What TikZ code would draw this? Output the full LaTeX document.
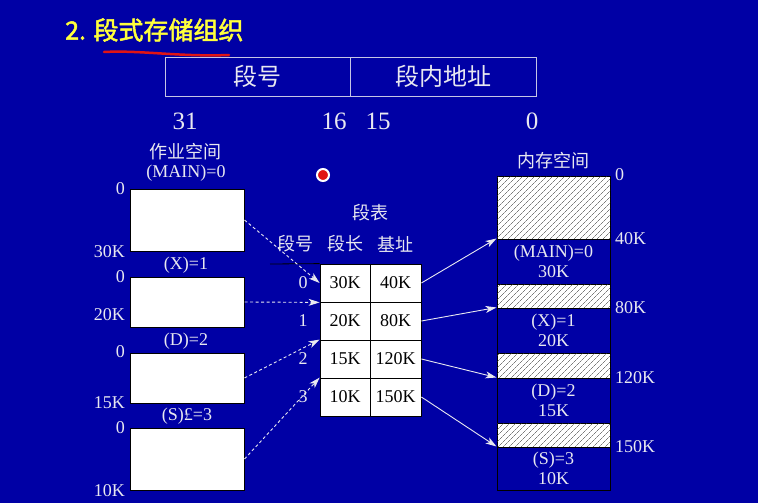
\documentclass[tikz,border=0pt]{standalone}
\usepackage{fontspec}
\setmainfont{Liberation Serif}
\newfontfamily\cjk{Noto Sans CJK SC}
\newfontfamily\cjkb[FakeBold=2]{Noto Sans CJK SC}
\usetikzlibrary{arrows.meta,patterns.meta}
\definecolor{slide}{RGB}{0,0,165}
\definecolor{lbl}{RGB}{232,232,240}
\definecolor{ttl}{RGB}{255,255,60}
\definecolor{pen}{RGB}{225,20,20}
\begin{document}
\begin{tikzpicture}[x=1pt,y=-1pt,>={Stealth[length=11pt,width=7pt,inset=3pt]},
  txt/.style={text=lbl,inner sep=0pt,font=\fontsize{18}{18}\selectfont},
  ctxt/.style={text=lbl,inner sep=0pt,font=\cjk\fontsize{18}{18}\selectfont},
  bits/.style={text=lbl,inner sep=0pt,font=\fontsize{25}{25}\selectfont},
  field/.style={draw=lbl!85!slide,line width=0.8pt,minimum height=39pt,inner sep=0pt,text=lbl,font=\cjk\fontsize{24}{24}\selectfont},
  jobseg/.style={draw=black,fill=white,line width=1pt,minimum width=114pt,inner sep=0pt},
  cell/.style={draw=black,fill=white,line width=0.8pt,minimum height=38pt,inner sep=0pt,font=\fontsize{18}{18}\selectfont},
  hole/.style={draw=black,line width=1pt,minimum width=113pt,inner sep=0pt,fill=white,
    postaction={pattern={Lines[angle=45,distance=4pt,line width=0.45pt]},pattern color=black!80}},
  memseg/.style={draw=black,line width=1pt,minimum width=113pt,inner sep=0pt,text=lbl,align=center,font=\fontsize{18}{20}\selectfont},
  link/.style={->,draw=lbl,line width=0.9pt,dash pattern=on 3pt off 2.5pt},
  map/.style={->,draw=lbl,line width=0.9pt}]
\fill[slide] (0,0) rectangle (758,503);
\node[anchor=west,text=ttl,inner sep=0pt,font=\cjkb\fontsize{25}{25}\selectfont] (title) at (65,30) {2. 段式存储组织};
\draw[pen,line width=2.5pt,line cap=round] (104,52) .. controls (140,50) and (180,57) .. (229,55);
\node[field,minimum width=185pt] (segno) at (257.5,76.5) {段号};
\node[field,minimum width=186pt] (offset) at (443,76.5) {段内地址};
\node[bits] (b31) at (185,121) {31};
\node[bits] (b16) at (334,121) {16};
\node[bits] (b15) at (378,121) {15};
\node[bits] (b0) at (532,121) {0};
\draw[white,fill=pen,line width=2pt] (323,175) circle (6pt);
\node[ctxt] (jobspace) at (185,152) {作业空间};
\node[txt] (jn0) at (186,173) {(MAIN)=0};
\node[jobseg,minimum height=62pt] (job0) at (187,220) {};
\node[txt] (jn1) at (186,265) {(X)=1};
\node[jobseg,minimum height=50pt] (job1) at (187,302) {};
\node[txt] (jn2) at (186,341) {(D)=2};
\node[jobseg,minimum height=50pt] (job2) at (187,378) {};
\node[txt] (jn3) at (187,416) {(S)£=3};
\node[jobseg,minimum height=62pt] (job3) at (187,459) {};
\node[txt,anchor=east] (ja0) at (125,189) {0};
\node[txt,anchor=east] (je0) at (125,252) {30K};
\node[txt,anchor=east] (ja1) at (125,277) {0};
\node[txt,anchor=east] (je1) at (125,315) {20K};
\node[txt,anchor=east] (ja2) at (125,352) {0};
\node[txt,anchor=east] (je2) at (125,403) {15K};
\node[txt,anchor=east] (ja3) at (125,428) {0};
\node[txt,anchor=east] (je3) at (125,491) {10K};
\node[ctxt] (segtab) at (370,213) {段表};
\node[ctxt] (hno) at (295,244) {段号};
\node[ctxt] (hlen) at (345,244) {段长};
\node[ctxt] (hbase) at (395,244) {基址};
\foreach \l/\b [count=\i from 0] in {30K/40K,20K/80K,15K/120K,10K/150K}{
  \node[cell,minimum width=50pt] (len\i) at (345,283+38*\i) {\l};
  \node[cell,minimum width=51pt] (base\i) at (395.5,283+38*\i) {\b};
  \node[txt] (num\i) at (303,283+38*\i) {\i};
}
\draw[black,line width=0.8pt] (270,264) -- (len0.north west);
\node[ctxt] (memspace) at (553,161) {内存空间};
\node[hole,minimum height=63pt] (hole0) at (553.5,207.5) {};
\node[memseg,minimum height=45pt] (mem0) at (553.5,261.5) {(MAIN)=0\\30K};
\node[hole,minimum height=24pt] (hole1) at (553.5,296) {};
\node[memseg,minimum height=45pt] (mem1) at (553.5,330.5) {(X)=1\\20K};
\node[hole,minimum height=25pt] (hole2) at (553.5,365.5) {};
\node[memseg,minimum height=45pt] (mem2) at (553.5,400.5) {(D)=2\\15K};
\node[hole,minimum height=24pt] (hole3) at (553.5,435) {};
\node[memseg,minimum height=43pt] (mem3) at (553.5,468.5) {(S)=3\\10K};
\node[txt,anchor=west] (ma0) at (615,175) {0};
\node[txt,anchor=west] (ma1) at (615,239) {40K};
\node[txt,anchor=west] (ma2) at (615,308) {80K};
\node[txt,anchor=west] (ma3) at (615,378) {120K};
\node[txt,anchor=west] (ma4) at (615,447) {150K};
\draw[link] (job0.east) -- (len0.west);
\draw[link] (job1.east) -- (len0.south west);
\draw[link] (job2.east) -- (len2.north west);
\draw[link] (job3.east) -- (len3.north west);
\foreach \i in {0,...,3}
  \draw[map] (base\i.east) -- (mem\i.north west);
\end{tikzpicture}
\end{document}
